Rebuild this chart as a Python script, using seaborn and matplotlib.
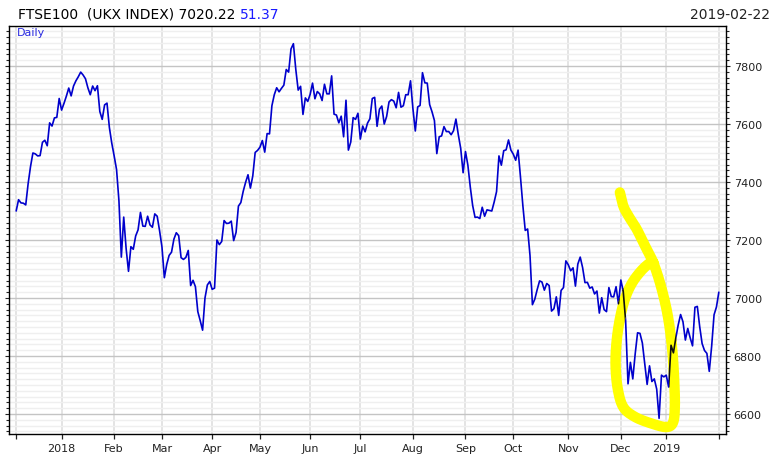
import matplotlib
matplotlib.use("Agg")
import matplotlib.pyplot as plt
import numpy as np
import seaborn as sns
from matplotlib.path import Path
from matplotlib.ticker import MultipleLocator
from matplotlib.transforms import IdentityTransform

# daily closes, one list per month (Dec 2017 .. 1 Feb 2019)
dec17 = [7300, 7339, 7328, 7327, 7321, 7394, 7453, 7500, 7497, 7490, 7491, 7537, 7544, 7525, 7604, 7593,
         7621, 7623, 7688]
jan18 = [7648, 7671, 7696, 7724, 7697, 7731, 7749, 7763, 7779, 7769, 7756, 7725, 7701, 7731, 7715, 7732,
         7643, 7616, 7666, 7672, 7588, 7534]
feb18 = [7490, 7443, 7335, 7141, 7279, 7171, 7092, 7177, 7168, 7214, 7235, 7295, 7248, 7247, 7282, 7252,
         7244, 7290, 7282, 7232]
mar18 = [7176, 7070, 7116, 7147, 7158, 7203, 7225, 7215, 7139, 7133, 7140, 7164, 7043, 7061, 7039, 6953,
         6922, 6889, 7000, 7045, 7057]
apr18 = [7030, 7034, 7200, 7184, 7195, 7267, 7257, 7258, 7265, 7198, 7226, 7317, 7329, 7368, 7399, 7425,
         7379, 7421, 7502, 7509]
may18 = [7520, 7543, 7503, 7567, 7566, 7663, 7701, 7725, 7711, 7723, 7734, 7788, 7779, 7859, 7877, 7788,
         7717, 7730, 7633, 7690, 7678]
jun18 = [7702, 7741, 7687, 7712, 7704, 7681, 7737, 7704, 7704, 7766, 7634, 7631, 7604, 7627, 7556, 7682,
         7510, 7538, 7622, 7616, 7637]
jul18 = [7548, 7593, 7573, 7603, 7618, 7688, 7692, 7592, 7651, 7662, 7600, 7626, 7676, 7684, 7679, 7656,
         7709, 7658, 7663, 7701, 7701, 7749]
aug18 = [7653, 7576, 7659, 7664, 7777, 7742, 7741, 7667, 7642, 7612, 7498, 7556, 7559, 7591, 7574, 7574,
         7563, 7577, 7617, 7563, 7516, 7432]
sep18 = [7505, 7458, 7383, 7319, 7278, 7279, 7274, 7313, 7282, 7304, 7302, 7300, 7331, 7367, 7490, 7458,
         7508, 7511, 7545, 7510]
oct18 = [7496, 7475, 7510, 7418, 7319, 7233, 7238, 7146, 6977, 6996, 7029, 7059, 7055, 7027, 7050, 7043,
         6955, 6963, 7004, 6940, 7026, 7036, 7128]
nov18 = [7115, 7094, 7104, 7041, 7117, 7141, 7105, 7053, 7054, 7034, 7038, 7014, 7024, 6948, 7001, 6960,
         6953, 7036, 7005, 7004, 7039, 6980]
dec18 = [7062, 7023, 6922, 6704, 6778, 6721, 6807, 6880, 6878, 6845, 6773, 6702, 6766, 6712, 6721, 6686,
         6585, 6734, 6728]
jan19 = [6734, 6693, 6837, 6811, 6862, 6907, 6943, 6918, 6855, 6895, 6863, 6835, 6968, 6971, 6901, 6843,
         6819, 6809, 6747, 6834, 6942, 6969]
feb19 = [7020]

months = [dec17, jan18, feb18, mar18, apr18, may18, jun18, jul18, aug18, sep18, oct18, nov18, dec18,
          jan19, feb19]
month_labels = ["", "2018", "Feb", "Mar", "Apr", "May", "Jun", "Jul", "Aug", "Sep", "Oct", "Nov", "Dec",
                "2019", ""]

# hand-drawn yellow loop (trading-day index, index level)
loop_day = [252.6, 254.0, 256.1, 259.6, 263.1, 265.9, 268.0, 270.1, 272.1, 273.5, 274.6, 275.3, 275.6,
            274.9, 272.1, 265.9, 258.9, 254.0, 251.7, 250.8, 251.2, 252.6, 254.7, 257.5, 261.0, 264.5, 266.6]
loop_level = [7364, 7318, 7284, 7238, 7180, 7135, 7089, 7031, 6962, 6894, 6813, 6722, 6630,
              6572, 6555, 6567, 6590, 6624, 6687, 6767, 6848, 6928, 6997, 7049, 7089, 7117, 7123]


def smooth(xs, ys, n=12):
    # catmull-rom through the traced pen points
    p = np.column_stack([xs, ys]).astype(float)
    p = np.vstack([p[0], p, p[-1]])
    t = np.linspace(0, 1, n, endpoint=False)[:, None]
    out = []
    for k in range(1, len(p) - 2):
        p0, p1, p2, p3 = p[k - 1], p[k], p[k + 1], p[k + 2]
        out.append(0.5 * (2 * p1 + (p2 - p0) * t + (2 * p0 - 5 * p1 + 4 * p2 - p3) * t ** 2
                          + (3 * p1 - p0 - 3 * p2 + p3) * t ** 3))
    out.append(p[-2][None])
    return np.vstack(out)


values = np.concatenate(months)
day = np.arange(len(values))
month_starts = np.cumsum([0] + [len(m) for m in months[:-1]])

sns.set_style("white")
plt.rcParams["font.family"] = ["DejaVu Sans"]

fig = plt.figure(figsize=(7.75, 4.6), dpi=100)
ax = fig.add_axes([9 / 775, 25 / 460, 717 / 775, 408 / 460])

sns.lineplot(x=day, y=values, ax=ax, color="#0000cc", lw=1.2, estimator=None, zorder=3)

ax.set_xlim(-3, 297)
ax.set_ylim(6531, 7938)
ax.set_xlabel("")
ax.set_ylabel("")

# highlighter stroke drawn over the line; the line shows dark through it
pen = smooth(loop_day, loop_level)
pen_width = 7.5
ax.plot(pen[:, 0], pen[:, 1], color="#ffff00", lw=pen_width, solid_capstyle="round",
        solid_joinstyle="round", zorder=4)
pen_px = ax.transData.transform(pen)
radius = pen_width * fig.dpi / 72 / 2
clip = Path.make_compound_path(*[Path.circle(p, radius) for p in pen_px])
sns.lineplot(x=day, y=values, ax=ax, color="#101010", lw=1.2, estimator=None, zorder=5)
ax.lines[-1].set_clip_path(clip, IdentityTransform())

ax.set_xticks(month_starts)
ax.set_xticklabels(month_labels)
ax.yaxis.set_major_locator(MultipleLocator(200))
ax.yaxis.set_minor_locator(MultipleLocator(20))
ax.yaxis.tick_right()

ax.set_axisbelow(True)
ax.grid(axis="y", which="minor", color="#efefef", lw=1)
ax.grid(axis="y", which="major", color="#c4c4c4", lw=1)
ax.grid(axis="x", which="major", color="#e2e2e2", lw=1.3)

ax.tick_params(axis="x", which="major", bottom=True, direction="out", length=3.5, width=0.9,
               pad=3, labelsize=8, colors="#222222")
ax.tick_params(axis="y", which="both", left=True, right=True, labelleft=False, labelright=True,
               direction="out", width=0.8, labelsize=8, pad=2.5, colors="#222222")
ax.tick_params(axis="y", which="major", length=3)
ax.tick_params(axis="y", which="minor", length=2)

for side in ax.spines.values():
    side.set_visible(True)
    side.set_color("black")
    side.set_linewidth(1)

ax.text(0.0116, 0.997, "Daily", transform=ax.transAxes, ha="left", va="top", fontsize=8,
        color="#2a2ae0")

title = fig.text(18 / 775, 1 - 22 / 460, "FTSE100  (UKX INDEX) 7020.22", ha="left", va="bottom",
                 fontsize=10, color="black")
ax.annotate("51.37", xy=(1, 0), xycoords=title, xytext=(4.5, 0), textcoords="offset pixels",
            ha="left", va="bottom", fontsize=10, color="#1a1aff", annotation_clip=False)
fig.text(770 / 775, 1 - 22 / 460, "2019-02-22", ha="right", va="bottom", fontsize=10, color="#222222")

fig.savefig("out.png", dpi=100)
